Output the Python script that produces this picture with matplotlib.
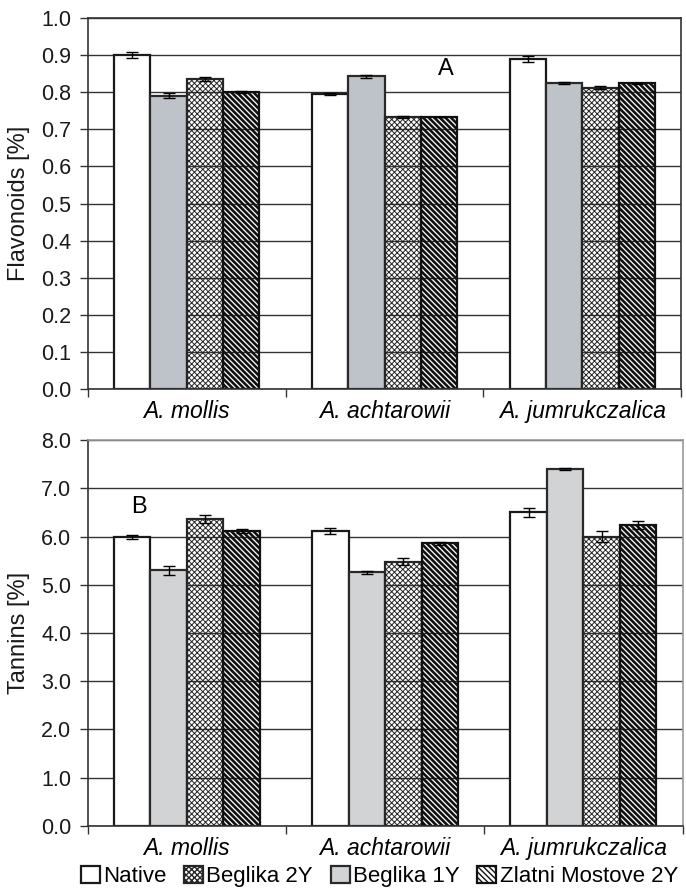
import matplotlib
matplotlib.use("Agg")
import matplotlib.pyplot as plt
import numpy as np

plt.rcParams["font.family"] = ["Liberation Sans", "DejaVu Sans"]

species = ["A. mollis", "A. achtarowii", "A. jumrukczalica"]
# drawing order inside each group
series = ["Native", "Beglika 1Y", "Beglika 2Y", "Zlatni Mostove 2Y"]

flav = {
    "Native":            [0.900, 0.795, 0.888],
    "Beglika 1Y":        [0.790, 0.842, 0.825],
    "Beglika 2Y":        [0.836, 0.733, 0.812],
    "Zlatni Mostove 2Y": [0.801, 0.733, 0.824],
}
flav_err = {
    "Native":            [0.008, 0.003, 0.008],
    "Beglika 1Y":        [0.007, 0.004, 0.003],
    "Beglika 2Y":        [0.005, 0.004, 0.005],
    "Zlatni Mostove 2Y": [0.003, 0.001, 0.001],
}
tann = {
    "Native":            [5.99, 6.11, 6.50],
    "Beglika 1Y":        [5.30, 5.26, 7.40],
    "Beglika 2Y":        [6.37, 5.48, 6.00],
    "Zlatni Mostove 2Y": [6.12, 5.86, 6.24],
}
tann_err = {
    "Native":            [0.05, 0.06, 0.10],
    "Beglika 1Y":        [0.09, 0.03, 0.03],
    "Beglika 2Y":        [0.08, 0.07, 0.11],
    "Zlatni Mostove 2Y": [0.04, 0.03, 0.08],
}
legend_order = ["Native", "Beglika 2Y", "Beglika 1Y", "Zlatni Mostove 2Y"]


def styles(grey):
    return {
        "Native":            dict(facecolor="white", edgecolor="#1a1a1a", hatch=None, hlw=1.0),
        "Beglika 1Y":        dict(facecolor=grey, edgecolor="#2a2a2a", hatch=None, hlw=1.0),
        "Beglika 2Y":        dict(facecolor="none", edgecolor="#262626", hatch="x" * 6, hlw=0.7),
        "Zlatni Mostove 2Y": dict(facecolor="none", edgecolor="#111111", hatch="\\" * 6, hlw=1.9),
    }


def draw_panel(ax, vals, errs, grey, ymax, step, ylabel, frame):
    w = 0.184
    centers = np.arange(len(species)) + 0.5
    st = styles(grey)
    handles = {}
    for k, name in enumerate(series):
        s = st[name]
        with plt.rc_context({"hatch.linewidth": s["hlw"]}):
            bars = ax.bar(centers + (k - 1.5) * w, vals[name], width=w,
                          facecolor=s["facecolor"], edgecolor=s["edgecolor"],
                          hatch=s["hatch"], linewidth=1.6, zorder=2)
        ax.errorbar(centers + (k - 1.5) * w, vals[name], yerr=errs[name],
                    fmt="none", ecolor="black", elinewidth=1.0,
                    capsize=4, capthick=1.0, zorder=3)
        handles[name] = bars
    ax.set_xlim(0, 3)
    ax.set_ylim(0, ymax)
    ticks = np.arange(0, ymax + step / 2, step)
    ax.set_yticks(ticks)
    ax.set_yticklabels([f"{t:.1f}" for t in ticks])
    ax.yaxis.grid(True, color="#333333", linewidth=1.0, zorder=0)
    ax.set_axisbelow(True)
    ax.set_xticks(centers)
    ax.set_xticklabels(species, style="italic", fontsize=16.5)
    ax.set_xticks([0, 1, 2, 3], minor=True)
    ax.tick_params(axis="x", which="major", length=0, pad=8)
    ax.tick_params(axis="x", which="minor", length=6, width=1, color="#333333")
    ax.tick_params(axis="y", length=6, width=1, color="#333333",
                   labelsize=15.5, pad=6, labelcolor="#1a1a1a")
    ax.set_ylabel(ylabel, fontsize=17, labelpad=8, color="#1a1a1a")
    for side, sp in ax.spines.items():
        sp.set_linewidth(1.2)
        sp.set_color(frame if side in ("top", "right") else "#333333")
    return handles


fig = plt.figure(figsize=(6.86, 8.89), dpi=100)
ax1 = fig.add_axes([0.128, 0.562, 0.865, 0.418])
ax2 = fig.add_axes([0.128, 0.071, 0.867, 0.434])

draw_panel(ax1, flav, flav_err, "#bec3c9", 1.0, 0.1, "Flavonoids [%]", "#333333")
handles = draw_panel(ax2, tann, tann_err, "#d2d3d5", 8.0, 1.0, "Tannins [%]", "#9a9a9a")

ax1.text(1.81, 0.863, "A", fontsize=17, ha="center", va="center")
ax2.text(0.26, 6.62, "B", fontsize=17, ha="center", va="center")

fig.legend([handles[n] for n in legend_order], legend_order,
           loc="center", bbox_to_anchor=(0.553, 0.014), ncol=4, frameon=False,
           fontsize=16, handlelength=0.85, handleheight=0.85, handletextpad=0.15,
           columnspacing=0.8, borderaxespad=0)

fig.savefig("out.png", dpi=100)
